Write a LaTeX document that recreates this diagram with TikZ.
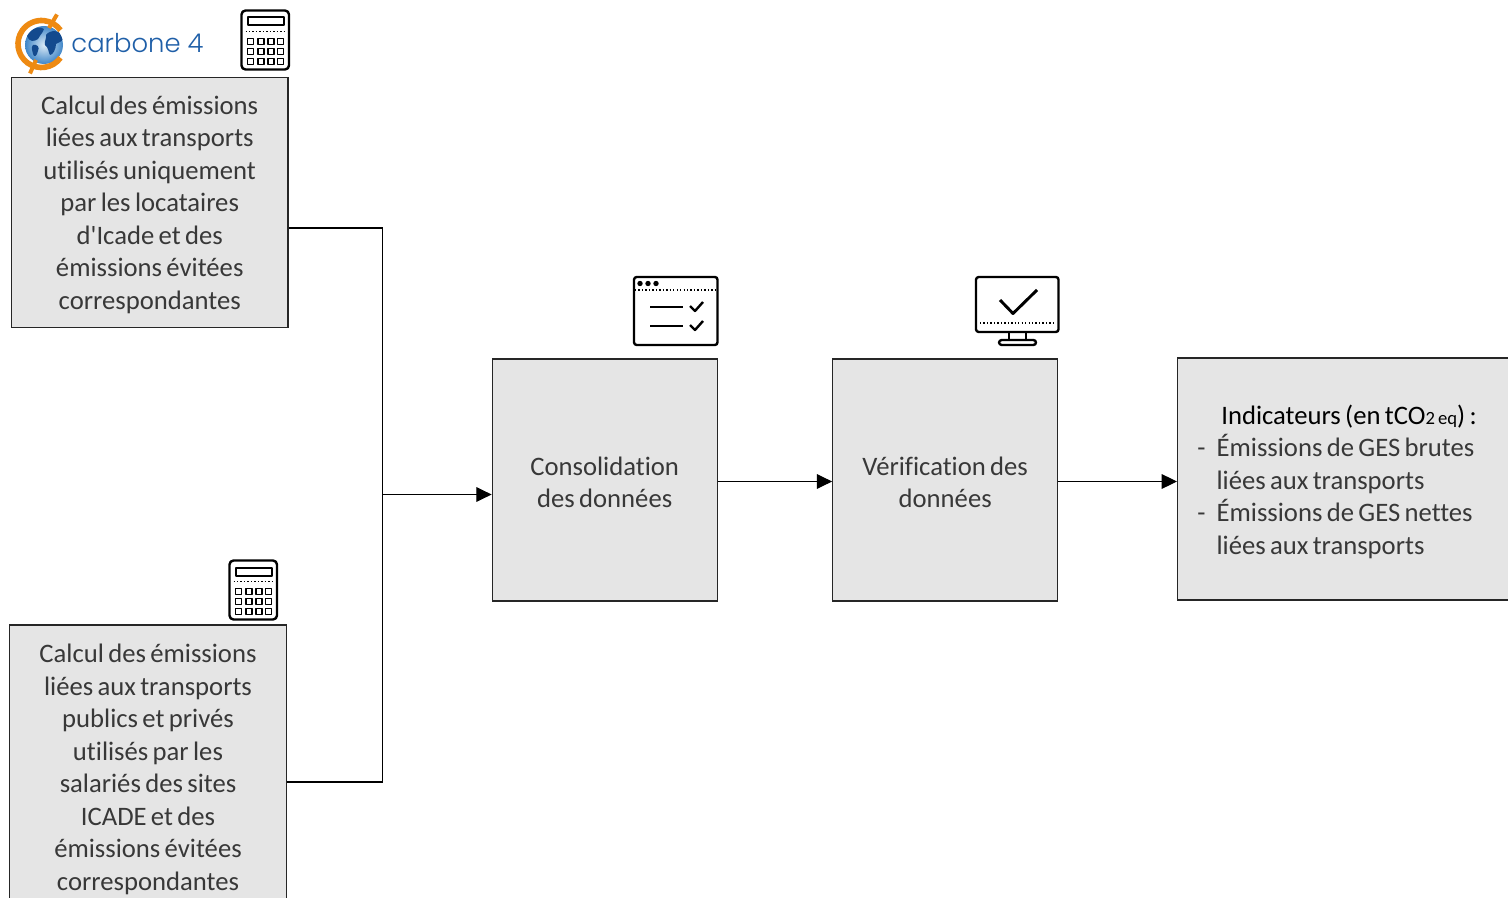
\documentclass[tikz,border=0pt]{standalone}
\usepackage{fontspec}
\setmainfont[Ligatures={TeXOff,NoCommon},WordSpace=0.72]{Carlito}
\newfontfamily\logofont[UprightFont=* Light]{Poppins}
\usetikzlibrary{arrows.meta}
\definecolor{boxgray}{HTML}{E5E5E5}
\definecolor{txtgray}{HTML}{383838}
\definecolor{logoblue}{HTML}{1F5FA8}
\definecolor{logonavy}{HTML}{134A8E}
\definecolor{logoorange}{HTML}{EE8A12}
\definecolor{globeout}{HTML}{3F86C8}
\definecolor{globein}{HTML}{DCEBF6}
\newcommand{\tstrut}{\rule{0pt}{17.6pt}}
\tikzset{
  procbox/.style={draw=black!85,line width=.8pt,fill=boxgray,align=center,text=txtgray,inner sep=0pt,
    font=\fontsize{20}{24.4}\selectfont},
  plaintext/.style={align=left,text=txtgray,inner sep=0pt,font=\fontsize{20}{24.4}\selectfont},
  link/.style={draw=black,line width=.8pt},
  flow/.style={link,-{Triangle[length=11.5pt,width=11pt]}},
  icon/.style={draw=black,line width=1.8pt,line join=round},
  dots/.style={draw=black,line width=1.1pt,dash pattern=on 1pt off 1.6pt},
  pics/calcicon/.style={code={
    \draw[icon,rounded corners=3pt] (0,0) rectangle (47.5,59);
    \draw[icon,line width=1.5pt] (6,7) rectangle (42,15);
    \draw[dots] (4,21) -- (45,21);
    \foreach \y in {28,38,48}{\foreach \x in {6,16.5,26.5,36}{
      \draw[icon,line width=1.25pt] (\x,\y) rectangle +(6,6);}}
  }}
}
\begin{document}
\begin{tikzpicture}[x=0.75pt,y=-0.75pt]
\clip (0,0) rectangle (1508,898);
\fill[white] (0,0) rectangle (1508,898);
% boxes
\node[procbox,minimum width=207.4pt,minimum height=187.1pt] (calcA) at (149.7,202.3)
  {\tstrut Calcul des émissions\\liées aux transports\\utilisés uniquement\\par les locataires\\d'Icade et des\\émissions évitées\\correspondantes};
\node[procbox,minimum width=207.4pt,minimum height=213pt] (calcB) at (148,767)
  {\tstrut Calcul des émissions\\liées aux transports\\publics et privés\\utilisés par les\\salariés des sites\\ICADE et des\\émissions évitées\\correspondantes};
\node[procbox,minimum width=168.8pt,minimum height=181.5pt] (conso) at (604.7,480)
  {\tstrut Consolidation\\des données};
\node[procbox,minimum width=168.8pt,minimum height=181.5pt] (verif) at (945.2,480)
  {\tstrut Vérification des\\données};
\node[procbox,minimum width=262pt,minimum height=181.5pt,anchor=west] (indic) at (1177,479) {};
\node[plaintext,anchor=west] (indictext) at (1197,481.5)
  {\hspace*{18pt}{\color{black}Indicateurs (en tCO{\fontsize{14}{12}\selectfont 2 eq}) :}\\
   \makebox[14.5pt][l]{-}Émissions de GES brutes\\
   \hspace*{14.5pt}liées aux transports\\
   \makebox[14.5pt][l]{-}Émissions de GES nettes\\
   \hspace*{14.5pt}liées aux transports};
% connectors
\coordinate (busTop) at (382.5,228);
\coordinate (busBot) at (382.5,782);
\coordinate (busOut) at (382.5,494.5);
\coordinate (outA) at (calcA.east |- busTop);
\coordinate (outB) at (calcB.east |- busBot);
\draw[link] (outA) -- (busTop) -- (busBot) -- (outB);
\draw[flow] (busOut) -- (conso.west |- busOut);
\coordinate (m1) at (717,481.5);
\draw[flow] (conso.east |- m1) -- (verif.west |- m1);
\draw[flow] (verif.east |- m1) -- (indic.west |- m1);
% calculators
\pic at (241.5,10.5) {calcicon};
\pic at (229.5,560.5) {calcicon};
% window icon
\draw[icon,rounded corners=2pt] (634,277) rectangle (717.5,345);
\fill (640,283.5) circle (2.7) (648,283.5) circle (2.7) (656,283.5) circle (2.7);
\draw[dots] (635,290) -- (716,290);
\draw[icon] (650,307) -- (683,307) (650,326) -- (683,326);
\draw[icon] (690,306) -- (695,311) -- (703,302);
\draw[icon] (690,325) -- (695,330) -- (703,321);
% monitor icon
\draw[icon,rounded corners=2pt] (976,277) rectangle (1058.5,332);
\draw[icon,line width=2.2pt] (1000,300) -- (1013,313.5) -- (1037,290);
\draw[dots] (980,323) -- (1055,323);
\draw[icon] (1009,332) -- (1009,340) (1026,332) -- (1026,340);
\draw[icon,rounded corners=2pt] (999,340) rectangle (1036,345);
% logo
\begin{scope}
  \shade[inner color=globein,outer color=globeout] (44,45) circle (19);
  \begin{scope}
    \clip (44,44) circle (19);
    \fill[logonavy] (27,36) .. controls (32,27) and (41,26) .. (44,29) .. controls (42,35) and (39,35) .. (38,39) .. controls (34,42) and (29,42) .. (27,36);
    \fill[logonavy] (33,45) .. controls (37,44) and (40,47) .. (38,51) .. controls (37,56) and (34,58) .. (33,54) .. controls (32,51) and (31,47) .. (33,45);
    \fill[logonavy] (46,35) .. controls (50,29) and (61,30) .. (64,38) .. controls (62,42) and (59,42) .. (56,44) .. controls (56,49) and (53,55) .. (50,55) .. controls (48,52) and (49,48) .. (45,45) .. controls (44,41) and (47,38) .. (46,35);
  \end{scope}
  \draw[logoorange,line width=4.2pt] (41.5,44) ++(36:23.5) arc (36:324:23.5);
  \draw[logoorange,line width=3pt] (49,28) -- (57,14.5);
  \draw[logoorange,line width=3pt] (36,60) -- (30,73.5);
\end{scope}
\node[text=logoblue,inner sep=0pt,font=\logofont\fontsize{19.4}{24}\selectfont] (logotext) at (137.5,43.5) {carbone 4};
\end{tikzpicture}
\end{document}
